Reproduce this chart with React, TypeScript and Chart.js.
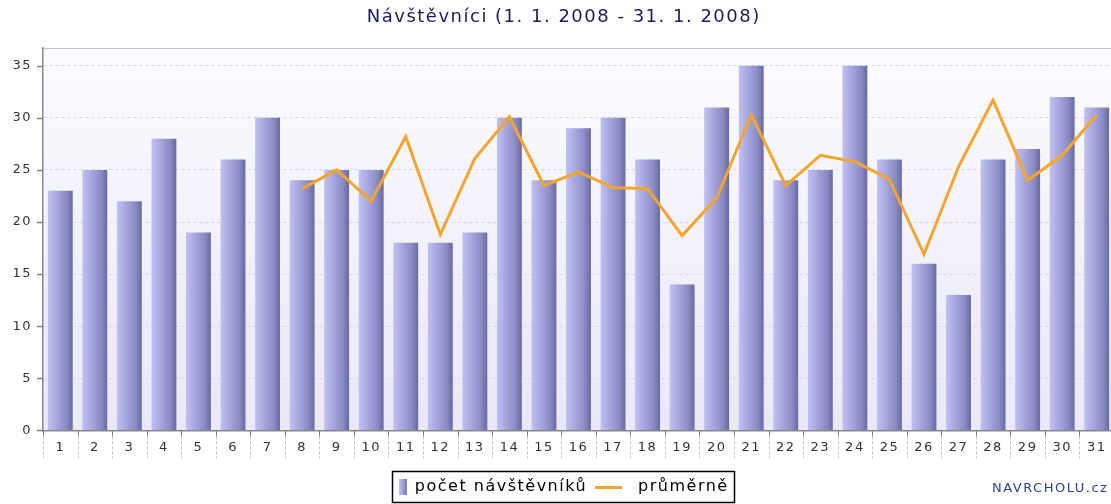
import React, { useEffect, useRef } from "react";
import { Chart, registerables } from "chart.js";

Chart.register(...registerables);

const days = [
  "1", "2", "3", "4", "5", "6", "7", "8", "9", "10", "11", "12", "13", "14", "15", "16",
  "17", "18", "19", "20", "21", "22", "23", "24", "25", "26", "27", "28", "29", "30", "31",
];
const visitors = [
  23, 25, 22, 28, 19, 26, 30, 24, 25, 25, 18, 18, 19, 30, 24, 29,
  30, 26, 14, 31, 35, 24, 25, 35, 26, 16, 13, 26, 27, 32, 31,
];
const average: (number | null)[] = [
  null, null, null, null, null, null, null, 23.2, 25, 22, 28.2, 18.8, 26.1, 30.1, 23.5, 24.8,
  23.3, 23.2, 18.7, 22.3, 30.3, 23.5, 26.4, 25.8, 24.1, 16.9, 25.3, 31.7, 24.0, 26.4, 30.3,
];
const yTicks = [0, 5, 10, 15, 20, 25, 30, 35];

const TITLE = "Návštěvníci (1. 1. 2008 - 31. 1. 2008)";
const BAR_LABEL = "počet návštěvníků";
const LINE_LABEL = "průměrně";
const CREDIT = "NAVRCHOLU.cz";
const FONT = "'DejaVu Sans', sans-serif";
const SPACING = "1.5px";

function makeBarMarker() {
  const c = document.createElement("canvas");
  c.width = 8;
  c.height = 16;
  const g = c.getContext("2d")!;
  const gr = g.createLinearGradient(0, 0, 8, 0);
  gr.addColorStop(0, "#c2c2f0");
  gr.addColorStop(1, "#7c7cb8");
  g.fillStyle = gr;
  g.fillRect(0, 0, 8, 16);
  return c;
}
function makeLineMarker() {
  const c = document.createElement("canvas");
  c.width = 62;
  c.height = 3;
  const g = c.getContext("2d")!;
  g.fillStyle = "#f5a52a";
  g.fillRect(0, 0, 27, 3);
  return c;
}

function setSpacing(chart: any) {
  if (chart.ctx && "letterSpacing" in chart.ctx) chart.ctx.letterSpacing = SPACING;
}

const decorPlugin = {
  id: "decor",
  afterInit: setSpacing,
  beforeUpdate: setSpacing,
  beforeLayout: setSpacing,
  beforeDraw(chart: any) {
    setSpacing(chart);
    const { ctx, chartArea: a } = chart;
    if (!a) return;
    ctx.save();
    const g = ctx.createLinearGradient(0, a.top, 0, a.bottom);
    g.addColorStop(0, "#fbfbff");
    g.addColorStop(1, "#e8e8f8");
    ctx.fillStyle = g;
    ctx.fillRect(a.left, a.top, a.right - a.left, a.bottom - a.top);
    ctx.strokeStyle = "#c4c4c4";
    ctx.lineWidth = 1;
    ctx.beginPath();
    ctx.moveTo(a.left, a.top + 0.5);
    ctx.lineTo(a.right, a.top + 0.5);
    ctx.stroke();
    ctx.restore();
  },
  afterDraw(chart: any) {
    const { ctx, chartArea: a } = chart;
    const xs = chart.scales.x;
    const ys = chart.scales.y;
    ctx.save();
    const half = xs.width / days.length / 2;
    for (let i = 0; i <= days.length; i++) {
      const x = Math.round(xs.getPixelForValue(Math.min(i, days.length - 1)) + (i === days.length ? half : -half)) + 0.5;
      ctx.setLineDash([]);
      ctx.strokeStyle = "#808080";
      ctx.lineWidth = 1;
      ctx.beginPath();
      ctx.moveTo(x, a.bottom);
      ctx.lineTo(x, a.bottom + 6);
      ctx.stroke();
      ctx.strokeStyle = "#c0c0c0";
      ctx.setLineDash([3, 2]);
      ctx.beginPath();
      ctx.moveTo(x, a.bottom + 6);
      ctx.lineTo(x, a.bottom + 28);
      ctx.stroke();
    }
    ctx.setLineDash([]);
    ctx.strokeStyle = "#808080";
    ctx.lineWidth = 1.5;
    for (const v of yTicks) {
      const y = Math.round(ys.getPixelForValue(v)) + 0.5;
      ctx.beginPath();
      ctx.moveTo(a.left - 6, y);
      ctx.lineTo(a.left, y);
      ctx.stroke();
    }
    const lg = chart.legend;
    if (lg && lg.legendHitBoxes && lg.legendHitBoxes.length) {
      const hb = lg.legendHitBoxes;
      const first = hb[0];
      const last = hb[hb.length - 1];
      const l = first.left - 7;
      const r = last.left + last.width + 5;
      const cy = first.top + first.height / 2;
      ctx.strokeStyle = "#000";
      ctx.lineWidth = 1.5;
      ctx.strokeRect(Math.round(l) + 0.5, Math.round(cy - 16) + 0.5, Math.round(r - l), 31);
    }
    ctx.font = `13px ${FONT}`;
    ctx.fillStyle = "#2d3f9a";
    ctx.textBaseline = "middle";
    ctx.textAlign = "left";
    ctx.fillText(CREDIT, 992, 489);
    ctx.restore();
  },
};

export default function App() {
  const ref = useRef<HTMLCanvasElement>(null);
  useEffect(() => {
    document.body.style.margin = "0";
    const barMarker = makeBarMarker();
    const lineMarker = makeLineMarker();
    const chart = new Chart(ref.current!, {
      type: "bar",
      data: {
        labels: days,
        datasets: [
          {
            type: "bar",
            label: BAR_LABEL,
            data: visitors,
            order: 2,
            barPercentage: 0.72,
            categoryPercentage: 1,
            borderWidth: 0,
            backgroundColor: (c: any) => {
              const chart = c.chart;
              const a = chart.chartArea;
              if (!a || c.dataIndex === undefined || !chart.scales.x) return "#9e9ed8";
              const xs = chart.scales.x;
              const x = xs.getPixelForValue(c.dataIndex);
              const w = (xs.width / days.length) * 0.72;
              const g = chart.ctx.createLinearGradient(x - w / 2, 0, x + w / 2, 0);
              g.addColorStop(0, "#c0c0f0");
              g.addColorStop(0.35, "#a8a8e0");
              g.addColorStop(0.75, "#8a8ac4");
              g.addColorStop(1, "#6a6aa2");
              return g;
            },
            pointStyle: barMarker as any,
          } as any,
          {
            type: "line",
            label: LINE_LABEL,
            data: average,
            order: 1,
            borderColor: "#f5a52a",
            backgroundColor: "#f5a52a",
            borderWidth: 3,
            pointRadius: 0,
            tension: 0,
            spanGaps: false,
            pointStyle: lineMarker as any,
          } as any,
        ],
      },
      options: {
        animation: false,
        responsive: false,
        maintainAspectRatio: false,
        layout: { padding: { left: 13.5, right: 0, top: 0, bottom: -1 } },
        plugins: {
          title: {
            display: true,
            text: TITLE,
            color: "#1c1c5c",
            font: { family: FONT, size: 18, weight: "normal" },
            padding: { top: 7, bottom: 19.4 },
          },
          legend: {
            display: true,
            position: "bottom",
            labels: {
              usePointStyle: true,
              pointStyleWidth: 8,
              color: "#000",
              font: { family: FONT, size: 16 },
              padding: 35,
              boxHeight: 16,
              sort: (a: any, b: any) => a.datasetIndex - b.datasetIndex,
            },
          },
          tooltip: { enabled: false },
        },
        scales: {
          x: {
            offset: true,
            grid: { display: false, drawTicks: false },
            border: { display: true, color: "#888888", width: 1.5 },
            afterFit: (s: any) => {
              s.height = 13.6;
            },
            ticks: {
              color: "#333",
              font: { family: FONT, size: 13 },
              mirror: true,
              padding: -25,
              maxRotation: 0,
              autoSkip: false,
            },
          },
          y: {
            min: 0,
            max: 36.7,
            afterBuildTicks: (s: any) => {
              s.ticks = yTicks.map((v) => ({ value: v }));
            },
            afterFit: (s: any) => {
              s.width = 29.5;
            },
            grid: {
              color: "#d6d6de",
              drawTicks: false,
            },
            border: { display: true, color: "#888888", width: 1.5, dash: [3, 3] },
            ticks: {
              color: "#333",
              font: { family: FONT, size: 13 },
              padding: 11,
            },
          },
        },
      } as any,
      plugins: [decorPlugin],
    });
    return () => chart.destroy();
  }, []);
  return (
    <div style={{ width: 1111, height: 504, overflow: "hidden", position: "relative", background: "#fff" }}>
      <canvas ref={ref} width={1114} height={504} style={{ display: "block" }} />
    </div>
  );
}
